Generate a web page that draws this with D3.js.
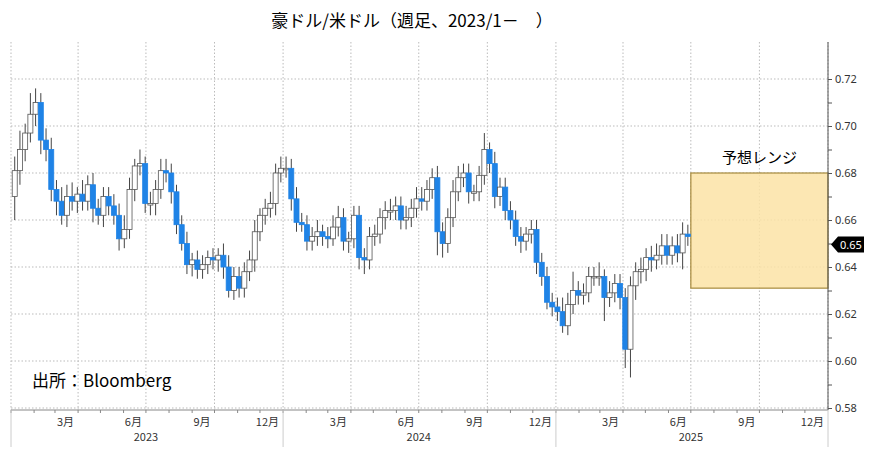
<!DOCTYPE html>
<html><head><meta charset="utf-8">
<script src="https://cdn.jsdelivr.net/npm/d3@7"></script>
<style>body{margin:0;background:#fff}svg{font-family:"Noto Sans CJK JP","Noto Sans",sans-serif}</style>
</head><body><svg id="c" width="878" height="460"></svg>
<script>
// weekly closes, Jan 2023 - Jun 2025
const closes = [
  0.681,0.690,0.697,0.705, 0.710,0.694,0.690,0.673, 0.668,0.662,0.670,0.668,0.671,
  0.668,0.675,0.665,0.662, 0.670,0.666,0.662,0.652,0.656, 0.673,0.683,0.684,0.667,0.667,
  0.673,0.681,0.680,0.672, 0.658,0.650,0.641,0.643, 0.639,0.641,0.644,0.643,0.645,
  0.640,0.630,0.636,0.631, 0.638,0.643,0.655,0.662, 0.665,0.667,0.680,0.682,
  0.682,0.669,0.659,0.658, 0.651,0.653,0.655,0.653, 0.652,0.657,0.661,0.651,0.652,
  0.662,0.644,0.643,0.653, 0.654,0.661,0.664,0.664,0.666, 0.660,0.661,0.665,0.669,
  0.668,0.673,0.678,0.655, 0.650,0.661,0.672,0.678,0.680, 0.672,0.672,0.679,0.690,
  0.684,0.670,0.674,0.664, 0.660,0.653,0.651,0.654,0.656, 0.642,0.636,0.625,0.623,
  0.621,0.615,0.624,0.630, 0.628,0.629,0.636,0.636, 0.636,0.627,0.629,0.633,0.627,
  0.605,0.632,0.638,0.639, 0.644,0.643,0.645,0.649,0.645, 0.649,0.646,0.654,0.653
];
const firstOpen = 0.670;
// wick lengths above / below body, thousandths
const wickUp = [
  6,8,4,9,6,4,5,5, 4,6,5,6,3, 6,4,5,4, 4,4,5,5,6, 5,3,6,3,5, 4,5,5,4, 3,4,5,3, 4,4,3,4,3,
  5,5,4,4, 4,4,5,3, 4,5,4,5, 5,4,5,4, 4,4,5,3, 4,5,5,4,3, 4,4,4,4, 4,4,4,5,4, 4,5,4,5,
  5,4,4,5, 4,4,5,5,4, 4,3,4,7, 3,5,4,4, 4,4,4,3,4, 4,4,4,4, 4,6,5,8, 4,4,4,4, 6,3,5,4,4,
  4,4,4,5, 4,5,5,5,5, 4,5,5,4
];
const wickDn = [
  10,6,5,4,5,6,5,5, 6,4,5,4,5, 4,4,6,4, 5,4,4,5,4, 4,5,4,4,5, 5,4,4,5, 4,3,4,5, 4,4,4,4,5,
  5,3,4,4, 4,4,5,4, 4,4,5,4, 4,5,4,3, 4,4,4,4, 4,3,4,4,5, 4,5,6,4, 4,4,5,4,4, 4,4,4,4,
  4,4,4,10, 6,4,4,4,4, 5,4,4,4, 4,5,4,4, 4,4,5,4,4, 5,4,3,4, 4,3,4,4, 4,4,4,4, 4,10,4,4,5,
  8,12,6,5, 5,5,4,4,4, 4,4,7,4
];
const yTicks = [0.58,0.60,0.62,0.64,0.66,0.68,0.70,0.72];
const monthTicks = ["3月","6月","9月","12月"];
const years = [2023,2024,2025];
const rangeLow = 0.631, rangeHigh = 0.680;
const lastValue = 0.65;

const svg = d3.select("#c");
const x = d3.scaleTime().domain([new Date(2023,0,1), new Date(2026,0,1)]).range([11, 828]);
const y = d3.scaleLinear().domain([0.58, 0.72]).range([408, 79]);
const plotTop = 42, plotBottom = 410;

// grid
const gridDates = [];
years.forEach(yr => [3,6,9,12].forEach(m => gridDates.push(new Date(yr, m, 1))));
svg.append("g").selectAll("line").data(yTicks).join("line")
  .attr("x1", 11).attr("x2", 828).attr("y1", d => y(d)).attr("y2", d => y(d))
  .attr("stroke", "#bbb").attr("stroke-dasharray", "1.5,2");
svg.append("g").selectAll("line").data(gridDates.concat([new Date(2023,0,1)])).join("line")
  .attr("x1", d => x(d)).attr("x2", d => x(d)).attr("y1", plotTop).attr("y2", plotBottom)
  .attr("stroke", "#bbb").attr("stroke-dasharray", "1.5,2");

// forecast box
svg.append("rect").attr("x", x(new Date(2025,6,1))).attr("y", y(rangeHigh))
  .attr("width", 828 - x(new Date(2025,6,1))).attr("height", y(rangeLow) - y(rangeHigh))
  .attr("fill", "#fbe3a6").attr("fill-opacity", 0.85).attr("stroke", "#a68a3c").attr("stroke-width", 1.2);
svg.append("text").attr("x", (x(new Date(2025,6,1)) + 828) / 2).attr("y", y(rangeHigh) - 10)
  .attr("text-anchor", "middle").attr("font-size", 15).text("予想レンジ");

// candles
const candles = closes.map((c, i) => {
  const o = i === 0 ? firstOpen : closes[i - 1];
  return {d: new Date(2023, 0, 6 + 7 * i), o, c,
    h: Math.max(o, c) + wickUp[i] / 1000, l: Math.min(o, c) - wickDn[i] / 1000};
});
const g = svg.append("g");
g.selectAll("line").data(candles).join("line")
  .attr("x1", d => x(d.d)).attr("x2", d => x(d.d)).attr("y1", d => y(d.h)).attr("y2", d => y(d.l))
  .attr("stroke", "#444").attr("stroke-width", 1);
g.selectAll("rect").data(candles).join("rect")
  .attr("x", d => x(d.d) - 2.5).attr("width", 5)
  .attr("y", d => y(Math.max(d.o, d.c))).attr("height", d => Math.max(1.5, Math.abs(y(d.o) - y(d.c))))
  .attr("fill", d => d.c < d.o ? "#1f83e6" : "#fff")
  .attr("stroke", d => d.c < d.o ? "#1f83e6" : "#555").attr("stroke-width", 0.8);

// right axis
const ax = svg.append("g").attr("transform", "translate(828,0)")
  .call(d3.axisRight(y).tickValues(d3.range(0.58, 0.7251, 0.01)).tickSize(4)
    .tickFormat(d => yTicks.some(t => Math.abs(t - d) < 1e-6) ? d.toFixed(2) : ""));
ax.select(".domain").attr("d", `M0,${plotTop}V${plotBottom}`).attr("stroke", "#555");
ax.selectAll("line").attr("stroke", "#555");
ax.selectAll("text").attr("font-size", 11).attr("fill", "#333").attr("font-family", "Noto Sans");

// price tag
const tg = svg.append("g").attr("transform", `translate(828,${y(lastValue) + 1})`);
tg.append("path").attr("d", "M3,0 L10,-8 H36 V8 H10 Z").attr("fill", "#000");
tg.append("text").attr("x", 12).attr("y", 4).attr("fill", "#fff").attr("font-size", 11)
  .attr("font-family", "Noto Sans").text(lastValue.toFixed(2));

// bottom axis
svg.append("line").attr("x1", 11).attr("x2", 828).attr("y1", plotBottom).attr("y2", plotBottom).attr("stroke", "#888");
svg.append("g").selectAll("line").data(d3.timeMonths(new Date(2023,0,1), new Date(2026,0,1))).join("line")
  .attr("x1", d => x(d)).attr("x2", d => x(d)).attr("y1", plotBottom).attr("y2", plotBottom + 3).attr("stroke", "#888");
svg.append("g").selectAll("text").data(gridDates).join("text")
  .attr("x", d => x(d) - 4).attr("y", plotBottom + 16).attr("text-anchor", "end")
  .attr("font-size", 11).attr("fill", "#333").text((d, i) => monthTicks[i % 4]);
svg.append("g").selectAll("line").data(years.concat([2026])).join("line")
  .attr("x1", d => x(new Date(d,0,1))).attr("x2", d => x(new Date(d,0,1)))
  .attr("y1", plotBottom).attr("y2", plotBottom + 37).attr("stroke", "#ccc");
svg.append("g").selectAll("text").data(years).join("text")
  .attr("x", d => x(new Date(d,6,1))).attr("y", plotBottom + 31).attr("text-anchor", "middle")
  .attr("font-size", 11).attr("fill", "#333").text(d => d);

// titles
svg.append("text").attr("x", 412).attr("y", 27).attr("text-anchor", "middle")
  .attr("font-size", 17).text("豪ドル/米ドル（週足、2023/1－　）");
svg.append("text").attr("x", 32).attr("y", 387).attr("font-size", 17).text("出所：Bloomberg");
</script></body></html>
